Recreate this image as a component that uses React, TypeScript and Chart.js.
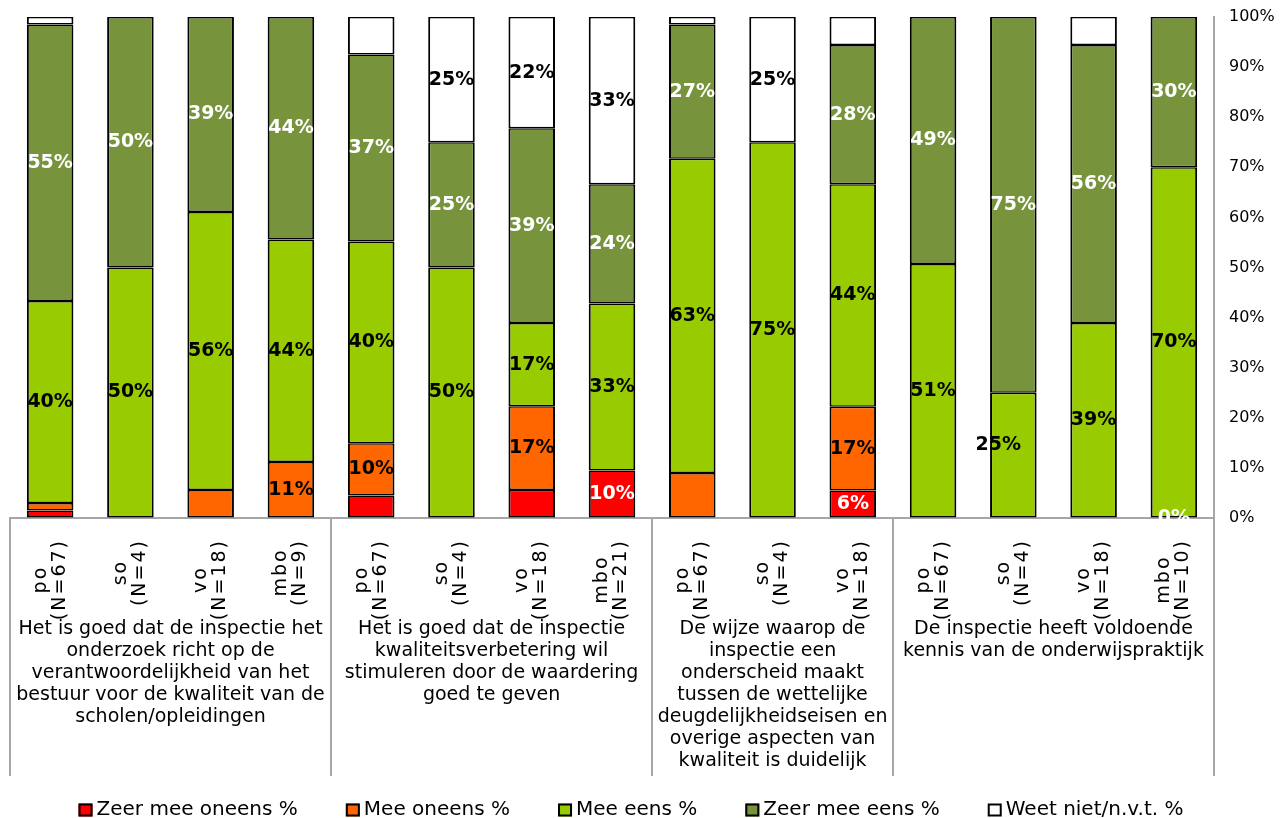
import React, { useEffect, useRef } from "react";
import { Chart, registerables } from "chart.js";

Chart.register(...registerables);

// ---------- DATA ----------
const categoryNames = ["po", "so", "vo", "mbo", "po", "so", "vo", "mbo", "po", "so", "vo", "po", "so", "vo", "mbo"];
const categoryCounts = ["(N=67)", "(N=4)", "(N=18)", "(N=9)", "(N=67)", "(N=4)", "(N=18)", "(N=21)", "(N=67)", "(N=4)", "(N=18)", "(N=67)", "(N=4)", "(N=18)", "(N=10)"];

const groupSizes = [4, 4, 3, 4];
const groupLabels = [
  ["Het is goed dat de inspectie het", "onderzoek richt op de", "verantwoordelijkheid van het", "bestuur voor de kwaliteit van de", "scholen/opleidingen"],
  ["Het is goed dat de inspectie", "kwaliteitsverbetering wil", "stimuleren door de waardering", "goed te geven"],
  ["De wijze waarop de", "inspectie een", "onderscheid maakt", "tussen de wettelijke", "deugdelijkheidseisen en", "overige aspecten van", "kwaliteit is duidelijk"],
  ["De inspectie heeft voldoende", "kennis van de onderwijspraktijk"],
];

const seriesNames = ["Zeer mee oneens %", "Mee oneens %", "Mee eens %", "Zeer mee eens %", "Weet niet/n.v.t. %"];

const zeerMeeOneens = [1.5, 0, 0, 0, 4.5, 0, 5.6, 9.5, 0, 0, 5.5, 0, 0, 0, 0];
const meeOneens = [1.5, 0, 5.6, 11.2, 10.4, 0, 16.7, 0, 9.0, 0, 16.7, 0, 0, 0, 0];
const meeEens = [40.3, 50, 55.5, 44.4, 40.3, 50, 16.6, 33.3, 62.7, 75, 44.4, 50.7, 25, 38.9, 70];
const zeerMeeEens = [55.2, 50, 38.9, 44.4, 37.3, 25, 38.9, 23.8, 26.8, 0, 27.8, 49.3, 75, 55.5, 30];
const weetNiet = [1.5, 0, 0, 0, 7.5, 25, 22.2, 33.4, 1.5, 25, 5.6, 0, 0, 5.6, 0];

// which segment values carry a visible data label
const showZeerMeeOneens = [false, false, false, false, false, false, false, true, false, false, true, false, false, false, true];
const showMeeOneens = [false, false, false, true, true, false, true, false, false, false, true, false, false, false, false];
const showMeeEens = [true, true, true, true, true, true, true, true, true, true, true, true, true, true, true];
const showZeerMeeEens = [true, true, true, true, true, true, true, true, true, false, true, true, true, true, true];
const showWeetNiet = [false, false, false, false, false, true, true, true, false, true, false, false, false, false, false];

// ---------- STYLE ----------
const FONT = '"DejaVu Sans", Verdana, sans-serif';
const seriesColors = ["#FF0000", "#FF6600", "#99CC00", "#77933C", "#FFFFFF"];
const labelColors = ["#FFFFFF", "#000000", "#000000", "#FFFFFF", "#000000"];
const AXIS_GRAY = "#A6A6A6";
// manual nudge of one label (dataset index, bar index, dx, dy)
const LABEL_NUDGE = [{ d: 2, i: 12, dx: -15, dy: -10 }];

const App: React.FC = () => {
  const canvasRef = useRef<HTMLCanvasElement | null>(null);

  useEffect(() => {
    document.body.style.margin = "0";
    const canvas = canvasRef.current;
    if (!canvas) return;

    const seriesData = [zeerMeeOneens, meeOneens, meeEens, zeerMeeEens, weetNiet];
    const showLabels = [showZeerMeeOneens, showMeeOneens, showMeeEens, showZeerMeeEens, showWeetNiet];

    const segLabelPlugin = {
      id: "segLabels",
      afterDatasetsDraw(chart: any) {
        const ctx = chart.ctx;
        ctx.save();
        ctx.font = `bold 19px ${FONT}`;
        ctx.textAlign = "center";
        ctx.textBaseline = "middle";
        chart.data.datasets.forEach((ds: any, di: number) => {
          const meta = chart.getDatasetMeta(di);
          meta.data.forEach((el: any, i: number) => {
            if (!showLabels[di][i]) return;
            const p = el.getProps(["x", "y", "base"], true);
            let cx = p.x;
            let cy = (p.y + p.base) / 2;
            const n = LABEL_NUDGE.find((q) => q.d === di && q.i === i);
            if (n) {
              cx += n.dx;
              cy += n.dy;
            }
            ctx.fillStyle = labelColors[di];
            ctx.fillText(Math.round(ds.data[i]) + "%", cx, cy);
          });
        });
        ctx.restore();
      },
    };

    const axisDecorPlugin = {
      id: "axisDecor",
      afterDraw(chart: any) {
        const ctx = chart.ctx;
        const xs = chart.scales.x;
        const area = chart.chartArea;
        const n = categoryNames.length;
        const step = (area.right - area.left) / n;
        const axisY = area.bottom;
        ctx.save();

        // group separators
        ctx.strokeStyle = AXIS_GRAY;
        ctx.lineWidth = 2;
        let start = 0;
        const bounds: number[] = [0];
        groupSizes.forEach((g) => {
          start += g;
          bounds.push(start);
        });
        bounds.forEach((b) => {
          const x = b < n ? xs.getPixelForValue(b) - step / 2 : xs.getPixelForValue(n - 1) + step / 2;
          ctx.beginPath();
          ctx.moveTo(Math.round(x), axisY);
          ctx.lineTo(Math.round(x), axisY + 258);
          ctx.stroke();
        });

        // category labels (rotated)
        ctx.fillStyle = "#000";
        ctx.font = `19px ${FONT}`;
        (ctx as any).letterSpacing = "2px";
        ctx.textAlign = "center";
        ctx.textBaseline = "middle";
        for (let i = 0; i < n; i++) {
          const cx = xs.getPixelForValue(i);
          const lines = [categoryNames[i], categoryCounts[i]];
          const maxW = Math.max(...lines.map((l) => ctx.measureText(l).width));
          const cy = axisY + 21 + maxW / 2;
          lines.forEach((l, li) => {
            ctx.save();
            ctx.translate(cx - 9.5 + li * 19, cy);
            ctx.rotate(-Math.PI / 2);
            ctx.fillText(l, 0, 0);
            ctx.restore();
          });
        }
        (ctx as any).letterSpacing = "0px";

        // group labels
        ctx.font = `19px ${FONT}`;
        ctx.textAlign = "center";
        ctx.textBaseline = "middle";
        let s = 0;
        groupSizes.forEach((g, gi) => {
          const left = xs.getPixelForValue(s) - step / 2;
          const right = xs.getPixelForValue(s + g - 1) + step / 2;
          const gx = (left + right) / 2;
          groupLabels[gi].forEach((line, li) => {
            ctx.fillText(line, gx, axisY + 111 + li * 22);
          });
          s += g;
        });

        // legend
        ctx.font = `20px ${FONT}`;
        ctx.textAlign = "left";
        const boxW = 14;
        const boxH = 13;
        const boxGap = 4;
        const itemGap = 48;
        const widths = seriesNames.map((t) => ctx.measureText(t).width);
        const total = widths.reduce((a, w) => a + boxW + boxGap + w, 0) + itemGap * (seriesNames.length - 1);
        let lx = 631 - total / 2;
        const ly = 810;
        seriesNames.forEach((t, k) => {
          ctx.fillStyle = seriesColors[k];
          ctx.fillRect(lx, ly - boxH / 2, boxW, boxH);
          ctx.strokeStyle = "#000";
          ctx.lineWidth = 2;
          ctx.strokeRect(lx + 1, ly - boxH / 2 + 1, boxW - 2, boxH - 2);
          ctx.fillStyle = "#000";
          ctx.fillText(t, lx + boxW + boxGap, ly);
          lx += boxW + boxGap + widths[k] + itemGap;
        });
        ctx.restore();
      },
    };

    const chart = new Chart(canvas, {
      type: "bar",
      data: {
        labels: categoryNames.map((c, i) => c + " " + categoryCounts[i]),
        datasets: seriesNames.map((name, k) => ({
          label: name,
          data: seriesData[k],
          backgroundColor: seriesColors[k],
          borderColor: "#000000",
          borderWidth: { left: 2, right: 2, top: 1.5, bottom: 1.5 },
          borderSkipped: false,
          barPercentage: 0.58,
          categoryPercentage: 1,
        })),
      },
      options: {
        animation: false,
        responsive: false,
        maintainAspectRatio: false,
        layout: { padding: { top: 17, left: 10, right: 0, bottom: 0 } },
        plugins: {
          legend: { display: false },
          tooltip: { enabled: false },
        },
        scales: {
          x: {
            stacked: true,
            grid: { display: false, drawTicks: false },
            border: { display: true, color: AXIS_GRAY, width: 2 },
            ticks: { display: false },
            afterFit: (sc: any) => {
              sc.height = 300;
            },
          },
          y: {
            stacked: true,
            position: "right",
            min: 0,
            max: 100,
            grid: { display: true, color: "rgba(0,0,0,0)", drawTicks: true, tickLength: 15, drawOnChartArea: false },
            border: { display: true, color: AXIS_GRAY, width: 2 },
            ticks: {
              stepSize: 10,
              padding: 0,
              color: "#000",
              font: { family: FONT, size: 16 },
              callback: (v: any) => v + "%",
            },
            afterFit: (sc: any) => {
              sc.width = 74;
            },
          },
        },
      },
      plugins: [segLabelPlugin, axisDecorPlugin],
    });

    return () => {
      chart.destroy();
    };
  }, []);

  return (
    <div style={{ width: 1288, height: 818 }}>
      <canvas ref={canvasRef} width={1288} height={818} style={{ width: 1288, height: 818, display: "block" }} />
    </div>
  );
};

export default App;
